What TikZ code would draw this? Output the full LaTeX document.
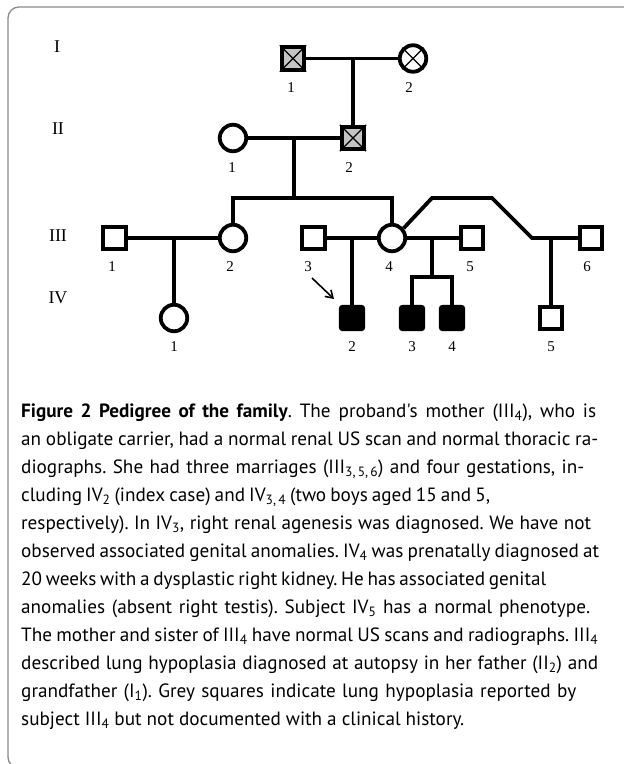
\documentclass[tikz,border=0pt]{standalone}
\usepackage{fontspec}
\setmainfont{Liberation Serif}
\newfontfamily\capfont{PT Sans}
\usetikzlibrary{arrows.meta}
\definecolor{framegray}{HTML}{8A8A8A}
\definecolor{affgray}{HTML}{C4C4C4}
\frenchspacing
\begin{document}
\begin{tikzpicture}[x=1pt,y=-1pt,
  conn/.style={line width=3.8pt},
  male/.style={draw,rectangle,line width=3.8pt,minimum size=22.5pt,inner sep=0pt,fill=white},
  female/.style={draw,circle,line width=3.8pt,minimum size=26.5pt,inner sep=0pt,fill=white},
  affm/.style={male,fill=black,rounded corners=2pt},
  repm/.style={male,fill=affgray},
  num/.style={font=\fontsize{15}{15}\selectfont,inner sep=0pt},
  gen/.style={font=\fontsize{18}{18}\selectfont,inner sep=0pt},
  xline/.style={line width=1.4pt},
  capline/.style={anchor=base west,inner sep=0pt,font=\capfont\fontsize{19.2}{28}\selectfont\frenchspacing}]
\useasboundingbox (0,0) rectangle (624,764);
\begin{scope}
\clip (0,0) rectangle (624,764);
\draw[framegray,line width=1.3pt,rounded corners=11pt] (8,7) rectangle (660,768);
\end{scope}
% generation labels
\node[gen] (gI) at (57,47) {I};
\node[gen] (gII) at (58,129) {II};
\node[gen] (gIII) at (58,236) {III};
\node[gen] (gIV) at (58,298) {IV};
% individuals
\node[repm] (I1) at (293,58.5) {};
\node[female] (I2) at (413,58.5) {};
\node[female] (II1) at (233,138) {};
\node[repm] (II2) at (353,138) {};
\node[male] (III1) at (114.5,238) {};
\node[female] (III2) at (233,238) {};
\node[male] (III3) at (313.5,238) {};
\node[female] (III4) at (392,238) {};
\node[male] (III5) at (472,238) {};
\node[male] (III6) at (591,238) {};
\node[female] (IV1) at (174,318) {};
\node[affm] (IV2) at (352,318) {};
\node[affm] (IV3) at (412,318) {};
\node[affm] (IV4) at (452,318) {};
\node[male] (IV5) at (551,318) {};
% crosses
\draw[xline] (I1.north west) -- (I1.south east) (I1.north east) -- (I1.south west);
\draw[xline] (II2.north west) -- (II2.south east) (II2.north east) -- (II2.south west);
\draw[xline] (I2.north west) -- (I2.south east) (I2.north east) -- (I2.south west);
% numbers
\node[num] (nI1) at (291,88) {1};
\node[num] (nI2) at (409,88) {2};
\node[num] (nII1) at (232,168) {1};
\node[num] (nII2) at (349,168) {2};
\node[num] (nIII1) at (112,267) {1};
\node[num] (nIII2) at (230,267) {2};
\node[num] (nIII3) at (308,267) {3};
\node[num] (nIII4) at (389,267) {4};
\node[num] (nIII5) at (470,267) {5};
\node[num] (nIII6) at (587,267) {6};
\node[num] (nIV1) at (174,347) {1};
\node[num] (nIV2) at (352,347) {2};
\node[num] (nIV3) at (412,347) {3};
\node[num] (nIV4) at (452,347) {4};
\node[num] (nIV5) at (551,347) {5};
% connectors
\coordinate (m1) at (353,58.5);
\coordinate (m2) at (294,138);
\coordinate (s2) at (294,198);
\coordinate (s2l) at (233,198);
\coordinate (s2r) at (392,198);
\coordinate (m3) at (174,238);
\coordinate (m4) at (352,238);
\coordinate (m5) at (432,238);
\coordinate (t5) at (432,277);
\coordinate (t5l) at (412,277);
\coordinate (t5r) at (452,277);
\coordinate (m6) at (551,238);
\coordinate (b1) at (432,198);
\coordinate (b2) at (492,198);
\coordinate (b3) at (532,238);
\coordinate (ar1) at (312,278);
\coordinate (ar2) at (334,299);
\draw[conn] (I1.east) -- (I2.west);
\draw[conn] (m1) -- (II2.north);
\draw[conn] (II1.east) -- (II2.west);
\draw[conn] (m2) -- (s2);
\draw[conn,line join=miter] (III2.north) -- (s2l) -- (s2r) -- (III4.north);
\draw[conn] (III1.east) -- (III2.west);
\draw[conn] (m3) -- (IV1.north);
\draw[conn] (III3.east) -- (III4.west);
\draw[conn] (m4) -- (IV2.north);
\draw[conn] (III4.east) -- (III5.west);
\draw[conn] (m5) -- (t5);
\draw[conn,line join=miter] (IV3.north) -- (t5l) -- (t5r) -- (IV4.north);
\draw[conn,line join=miter] (III4.40) -- (b1) -- (b2) -- (b3) -- (III6.west);
\draw[conn] (m6) -- (IV5.north);
\draw[line width=1.6pt,-{Straight Barb[length=7pt,width=9pt,line width=1.6pt]}] (ar1) -- (ar2);
% caption
\node[capline] (c1) at (21,417) {\makebox[575pt][s]{\textbf{Figure 2 Pedigree of the family}. The proband's mother (III\textsubscript{4}), who is}};
\node[capline] (c2) at (21,445) {\makebox[577pt][s]{an obligate carrier, had a normal renal US scan and normal thoracic ra-}};
\node[capline] (c3) at (21,473) {\makebox[563pt][s]{diographs. She had three marriages (III\textsubscript{3,\,5,\,6}) and four gestations, in-}};
\node[capline] (c4) at (21,501) {\makebox[469pt][s]{cluding IV\textsubscript{2} (index case) and IV\textsubscript{3,\,4} (two boys aged 15 and 5,}};
\node[capline] (c5) at (21,529) {\makebox[570pt][s]{respectively). In IV\textsubscript{3}, right renal agenesis was diagnosed. We have not}};
\node[capline] (c6) at (21,557) {\makebox[578pt][s]{observed associated genital anomalies. IV\textsubscript{4} was prenatally diagnosed at}};
\node[capline] (c7) at (21,585) {\makebox[525pt][s]{20 weeks with a dysplastic right kidney. He has associated genital}};
\node[capline] (c8) at (21,613) {\makebox[569pt][s]{anomalies (absent right testis). Subject IV\textsubscript{5} has a normal phenotype.}};
\node[capline] (c9) at (21,641) {\makebox[577pt][s]{The mother and sister of III\textsubscript{4} have normal US scans and radiographs. III\textsubscript{4}}};
\node[capline] (c10) at (21,669) {\makebox[577pt][s]{described lung hypoplasia diagnosed at autopsy in her father (II\textsubscript{2}) and}};
\node[capline] (c11) at (21,697) {\makebox[555pt][s]{grandfather (I\textsubscript{1}). Grey squares indicate lung hypoplasia reported by}};
\node[capline] (c12) at (21,725) {\makebox[443pt][s]{subject III\textsubscript{4} but not documented with a clinical history.}};
\end{tikzpicture}
\end{document}
